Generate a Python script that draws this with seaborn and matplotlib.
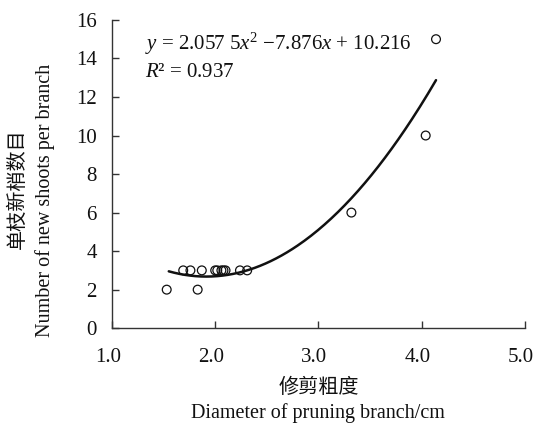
import numpy as np
import pandas as pd
import matplotlib
matplotlib.use('Agg')
import matplotlib.pyplot as plt
import matplotlib.transforms as mtransforms
import seaborn as sns

diameter = [1.53, 1.83, 1.69, 1.76, 1.87, 2.00, 2.02, 2.06, 2.08, 2.10, 2.24, 2.31, 3.32, 4.04, 4.14]
shoots = [2, 2, 3, 3, 3, 3, 3, 3, 3, 3, 3, 3, 6, 10, 15]

# fitted quadratic shown on the chart: a*x^2 + b*x + c
coef = [2.0575, -7.876, 10.216]
fit_range = [1.55, 4.14]

x_ticks = [1.0, 2.0, 3.0, 4.0, 5.0]
y_ticks = [0, 2, 4, 6, 8, 10, 12, 14, 16]

sns.set_theme(style='ticks')
plt.rcParams['font.family'] = ['Liberation Serif', 'Noto Sans CJK SC']
plt.rcParams['mathtext.fontset'] = 'custom'
plt.rcParams['mathtext.rm'] = 'Liberation Serif'
plt.rcParams['mathtext.it'] = 'Liberation Serif:italic'

df = pd.DataFrame({'d': diameter, 'n': shoots})
xs = np.linspace(fit_range[0], fit_range[1], 200)
fit = pd.DataFrame({'d': xs, 'n': np.polyval(coef, xs)})

fig = plt.figure(figsize=(5.36, 4.24), dpi=100)
ax = fig.add_axes([0.209, 0.226, 0.77, 0.727])

sns.lineplot(data=fit, x='d', y='n', ax=ax, color='#111111', linewidth=1.8)
sns.scatterplot(data=df, x='d', y='n', ax=ax, s=40, facecolor='none',
                edgecolor='#111111', linewidth=0.9, zorder=3)

ax.set_xlim(1.0, 5.0)
ax.set_ylim(0, 16)
ax.set_xticks(x_ticks)
ax.set_xticklabels([f'{v:.1f}' for v in x_ticks])
ax.set_yticks(y_ticks)
for s in ['top', 'right']:
    ax.spines[s].set_visible(False)
for s in ['left', 'bottom']:
    ax.spines[s].set_color('#333333')
    ax.spines[s].set_linewidth(1.0)
ax.tick_params(direction='in', length=5, width=1.0, color='#333333',
               labelsize=15, labelcolor='#111111')
ax.tick_params(axis='x', pad=14)
ax.tick_params(axis='y', pad=11)

# x tick labels sit a touch left of their ticks in the original
shift = mtransforms.ScaledTranslation(-3 / 72, 0, fig.dpi_scale_trans)
for lab in ax.get_xticklabels():
    lab.set_transform(lab.get_transform() + shift)

ax.set_xlabel('修剪粗度\nDiameter of pruning branch/cm', fontsize=14.5,
              color='#111111', linespacing=1.3, labelpad=9)
ax.set_ylabel('')
# two y-label lines placed separately (they are not centred on the same point)
ax.text(-0.228, 0.452, '单枝新梢数目', transform=ax.transAxes, rotation=90,
        fontsize=14.5, color='#111111', ha='center', va='center')
ax.text(-0.162, 0.415, 'Number of new shoots per branch', transform=ax.transAxes,
        rotation=90, fontsize=14.5, color='#111111', ha='center', va='center')

ax.text(0.08, 0.923, r'$y$ = 2.057 5$x^2$ −7.876$x$ + 10.216', transform=ax.transAxes,
        fontsize=15, va='center', color='#111111')
ax.text(0.08, 0.83, r'$R$² = 0.937', transform=ax.transAxes,
        fontsize=15, va='center', color='#111111')

fig.savefig('out.png', dpi=100)
plt.close(fig)
